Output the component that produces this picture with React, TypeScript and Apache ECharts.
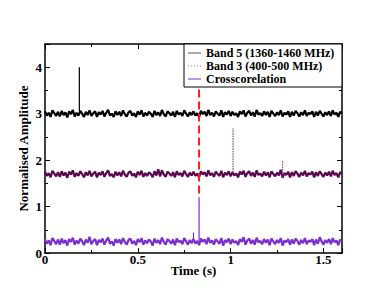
import React, { useEffect, useRef } from "react";
import * as echarts from "echarts";

// sampling: one sample every 0.01 s from 0 to 1.6 s
const SAMPLE_STEP = 0.01;

const band5 = [
  3.05, 2.96, 3.02, 2.93, 3.07, 3.01, 2.95, 3.04, 2.94, 3.06,
  2.97, 3.03, 2.92, 3.05, 2.99, 3.08, 2.94, 3.02, 2.96, 3.06,
  3.0, 2.93, 3.04, 2.97, 3.07, 2.95, 3.01, 3.05, 2.93, 3.03,
  2.98, 3.06, 2.94, 3.02, 3.08, 2.96, 3.0, 2.93, 3.05, 2.97,
  3.04, 2.95, 3.07, 2.99, 2.94, 3.03, 3.06, 2.96, 3.01, 2.93,
  3.05, 2.98, 3.07, 2.94, 3.02, 2.96, 3.04, 3.0, 2.93, 3.06,
  2.97, 3.03, 2.95, 3.08, 2.99, 2.94, 3.05, 3.01, 2.96, 3.04,
  2.93, 3.06, 2.98, 3.02, 2.95, 3.07, 3.0, 2.94, 3.03, 2.97,
  3.05, 2.96, 3.01, 2.93, 3.06, 2.99, 3.04, 2.95, 3.08, 2.97,
  3.02, 2.94, 3.05, 3.0, 2.96, 3.07, 2.93, 3.03, 2.98, 3.06,
  2.95, 3.04, 2.97, 3.01, 2.93, 3.05, 2.99, 3.07, 2.94, 3.02,
  3.06, 2.96, 3.03, 2.94, 3.08, 2.98, 3.01, 2.95, 3.05, 2.97,
  3.04, 2.93, 3.06, 3.0, 2.95, 3.03, 2.97, 3.07, 2.94, 3.02,
  2.98, 3.05, 2.93, 3.04, 2.96, 3.06, 3.01, 2.94, 3.03, 2.97,
  3.07, 2.95, 3.02, 2.99, 3.05, 2.93, 3.04, 2.96, 3.06, 3.0,
  2.94, 3.03, 2.97, 3.05, 2.95, 3.07, 2.98, 3.02, 2.93, 3.04, 3.01,
];

const band3 = [
  1.75, 1.66, 1.72, 1.63, 1.77, 1.71, 1.65, 1.74, 1.64, 1.76,
  1.67, 1.73, 1.62, 1.75, 1.69, 1.78, 1.64, 1.72, 1.66, 1.76,
  1.7, 1.63, 1.74, 1.67, 1.77, 1.65, 1.71, 1.75, 1.63, 1.73,
  1.68, 1.76, 1.64, 1.72, 1.78, 1.66, 1.7, 1.63, 1.75, 1.67,
  1.74, 1.65, 1.77, 1.69, 1.64, 1.73, 1.76, 1.66, 1.71, 1.63,
  1.75, 1.68, 1.77, 1.64, 1.72, 1.66, 1.74, 1.7, 1.63, 1.76,
  1.67, 1.8, 1.65, 1.78, 1.69, 1.64, 1.75, 1.71, 1.66, 1.74,
  1.63, 1.76, 1.68, 1.72, 1.65, 1.77, 1.7, 1.64, 1.73, 1.67,
  1.75, 1.66, 1.71, 1.63, 1.76, 1.69, 1.74, 1.65, 1.78, 1.67,
  1.72, 1.64, 1.75, 1.7, 1.66, 1.77, 1.63, 1.73, 1.68, 1.76,
  1.65, 1.74, 1.67, 1.71, 1.63, 1.75, 1.69, 1.77, 1.64, 1.72,
  1.76, 1.66, 1.73, 1.64, 1.78, 1.68, 1.71, 1.65, 1.75, 1.67,
  1.74, 1.63, 1.76, 1.7, 1.65, 1.73, 1.67, 1.79, 1.62, 1.72,
  1.68, 1.75, 1.63, 1.74, 1.66, 1.76, 1.71, 1.64, 1.73, 1.67,
  1.77, 1.65, 1.72, 1.69, 1.75, 1.63, 1.74, 1.66, 1.76, 1.7,
  1.64, 1.73, 1.67, 1.75, 1.65, 1.77, 1.68, 1.72, 1.63, 1.74, 1.71,
];

const crossCorr = [
  0.3, 0.2, 0.27, 0.17, 0.32, 0.26, 0.19, 0.29, 0.18, 0.31,
  0.21, 0.28, 0.16, 0.3, 0.24, 0.33, 0.18, 0.27, 0.2, 0.31,
  0.25, 0.17, 0.29, 0.22, 0.35, 0.19, 0.26, 0.3, 0.17, 0.28,
  0.23, 0.31, 0.18, 0.27, 0.33, 0.2, 0.25, 0.16, 0.3, 0.22,
  0.29, 0.19, 0.32, 0.24, 0.18, 0.28, 0.31, 0.2, 0.26, 0.17,
  0.3, 0.23, 0.32, 0.18, 0.27, 0.21, 0.29, 0.25, 0.16, 0.31,
  0.22, 0.28, 0.19, 0.33, 0.24, 0.18, 0.3, 0.26, 0.2, 0.29,
  0.17, 0.31, 0.23, 0.27, 0.19, 0.32, 0.25, 0.18, 0.28, 0.21,
  0.3, 0.2, 0.26, 0.17, 0.31, 0.24, 0.29, 0.19, 0.33, 0.22,
  0.27, 0.18, 0.3, 0.25, 0.2, 0.32, 0.16, 0.28, 0.23, 0.31,
  0.19, 0.29, 0.22, 0.26, 0.17, 0.3, 0.24, 0.34, 0.18, 0.27,
  0.31, 0.2, 0.28, 0.18, 0.33, 0.23, 0.26, 0.19, 0.3, 0.22,
  0.29, 0.17, 0.31, 0.25, 0.19, 0.28, 0.22, 0.32, 0.16, 0.27,
  0.23, 0.3, 0.18, 0.29, 0.2, 0.31, 0.26, 0.18, 0.28, 0.21,
  0.32, 0.19, 0.27, 0.24, 0.3, 0.17, 0.29, 0.2, 0.34, 0.25,
  0.18, 0.28, 0.22, 0.3, 0.19, 0.32, 0.23, 0.27, 0.17, 0.29, 0.26,
];

// isolated spikes: [time (s), peak amplitude]
const band5Spikes = [[0.185, 4.0]];
const band3Spikes = [[1.013, 2.68], [1.28, 1.98]];
const crossSpikes = [[0.8, 0.44], [0.83, 1.2]];

// red dashed event marker: time and amplitude extent
const markerTime = 0.83;
const markerRange = [1.28, 3.58];

const seriesNames = ["Band 5 (1360-1460 MHz)", "Band 3 (400-500 MHz)", "Crosscorelation"];
const seriesColors = ["#000000", "#5c0650", "#7a2fd0"];
const spikeColors = ["#000000", "#8a3a80", "#7a2fd0"];
const legendLineColors = ["#555555", "#b060a8", "#7a2fd0"];

const FONT = "'Liberation Serif', 'Times New Roman', serif";

function noisePairs(values: number[]) {
  return values.map((v, i) => [Number((i * SAMPLE_STEP).toFixed(3)), v]);
}

// vertical strokes from the local trace level up to each spike peak
function spikePairs(values: number[], spikes: number[][]) {
  const out: (number | string)[][] = [];
  spikes.forEach(([t, peak]) => {
    const base = values[Math.round(t / SAMPLE_STEP)];
    out.push([t, base], [t, peak], [t, "-"]);
  });
  return out;
}

export default function App() {
  const ref = useRef<HTMLDivElement>(null);
  useEffect(() => {
    if (!ref.current) return;
    const chart = echarts.init(ref.current, undefined, { renderer: "svg" });
    const axisLabel = { color: "#000", fontFamily: FONT, fontWeight: "bold", fontSize: 13 };
    const nameStyle = { color: "#000", fontFamily: FONT, fontWeight: "bold", fontSize: 13 };
    const sideAxis = {
      axisLine: { show: true, onZero: false, lineStyle: { color: "#000", width: 1.5 } },
      axisTick: { inside: true, length: 5, lineStyle: { color: "#000", width: 1 } },
      minorTick: { show: true, splitNumber: 2, length: 3, lineStyle: { color: "#000" } },
      splitLine: { show: false },
    };
    const legendX = 184;
    const legendY = 44;
    const rowYs = [53, 66, 79];
    const traces = [band5, band3, crossCorr];
    const spikes = [band5Spikes, band3Spikes, crossSpikes];
    const noiseSeries = traces.map((vals, i) => ({
      name: seriesNames[i],
      type: "line",
      data: noisePairs(vals),
      showSymbol: false,
      symbol: "none",
      lineStyle: { color: seriesColors[i], width: 2.2 },
    }));
    const spikeSeries = traces.map((vals, i) => ({
      name: seriesNames[i],
      type: "line",
      data: spikePairs(vals, spikes[i]),
      showSymbol: false,
      symbol: "none",
      connectNulls: false,
      lineStyle: { color: spikeColors[i], width: 1.2, type: i === 1 ? [1.5, 1] : "solid" },
    }));
    chart.setOption({
      animation: false,
      backgroundColor: "#fff",
      grid: { left: 45, right: 43, top: 44, bottom: 45 },
      xAxis: [
        {
          type: "value",
          min: 0,
          max: 1.6,
          interval: 0.5,
          name: "Time (s)",
          nameLocation: "middle",
          nameGap: 11,
          nameMoveOverlap: false,
          nameTextStyle: nameStyle,
          ...sideAxis,
          axisLabel: { ...axisLabel, showMaxLabel: false, margin: 0 },
        },
        {
          type: "value",
          position: "top",
          min: 0,
          max: 1.6,
          interval: 0.5,
          ...sideAxis,
          axisLabel: { show: false },
        },
      ],
      yAxis: [
        {
          type: "value",
          min: 0,
          max: 4.5,
          interval: 1,
          name: "Normalised Amplitude",
          nameLocation: "middle",
          nameGap: 15,
          nameMoveOverlap: false,
          nameTextStyle: nameStyle,
          ...sideAxis,
          axisLabel: { ...axisLabel, showMaxLabel: false, margin: 3 },
        },
        {
          type: "value",
          position: "right",
          min: 0,
          max: 4.5,
          interval: 1,
          ...sideAxis,
          axisLabel: { show: false },
        },
      ],
      series: [
        ...noiseSeries,
        ...spikeSeries,
        {
          name: "marker",
          type: "line",
          data: markerRange.map((v) => [markerTime, v]),
          showSymbol: false,
          symbol: "none",
          lineStyle: { color: "#ff1a1a", width: 2, type: [8, 4] },
        },
      ],
      graphic: [
        {
          type: "rect",
          shape: { x: legendX, y: legendY, width: 158, height: 43 },
          style: { fill: "#fff", stroke: "#000", lineWidth: 1 },
          z: 100,
        },
        ...rowYs.map((y, i) => ({
          type: "line",
          shape: { x1: legendX + 4, y1: y, x2: legendX + 17, y2: y },
          style: {
            stroke: legendLineColors[i],
            lineWidth: 1,
            lineDash: i === 1 ? [1, 2] : null,
          },
          z: 101,
        })),
        ...rowYs.map((y, i) => ({
          type: "text",
          x: legendX + 22,
          y,
          style: {
            text: seriesNames[i],
            fill: "#000",
            font: `bold 12px ${FONT}`,
            verticalAlign: "middle",
          },
          z: 101,
        })),
      ],
    });
    return () => chart.dispose();
  }, []);
  return <div ref={ref} style={{ width: 385, height: 298, margin: -8 }} />;
}
